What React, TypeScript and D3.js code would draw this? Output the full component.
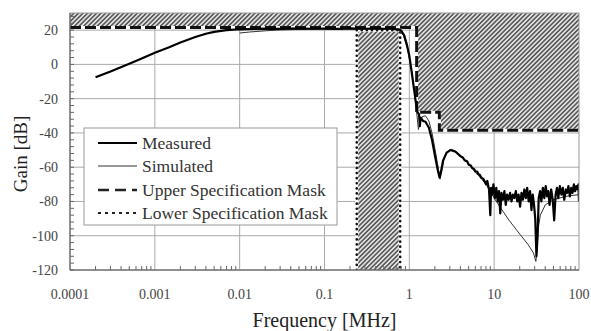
import React from "react";
import * as d3 from "d3";

const W = 591, H = 331;
const M = { left: 70, right: 579, top: 13, bottom: 270 };

const xTicks = [0.0001, 0.001, 0.01, 0.1, 1, 10, 100];
const xTickLabels = ["0.0001", "0.001", "0.01", "0.1", "1", "10", "100"];
const yTicks = [20, 0, -20, -40, -60, -80, -100, -120];

const measuredFreq = [
  0.0002, 0.0003, 0.0005, 0.0007, 0.001, 0.0015, 0.002, 0.003, 0.004, 0.005, 0.007, 0.01,
  0.015, 0.02, 0.03, 0.05, 0.07, 0.1, 0.15, 0.2, 0.3, 0.4, 0.5, 0.6, 0.7, 0.75, 0.8, 0.87,
  0.93, 1.0, 1.07, 1.14, 1.2, 1.25, 1.3, 1.33, 1.36, 1.45, 1.55, 1.7, 1.85, 2.0, 2.15, 2.27,
  2.35, 2.5, 2.75, 3.05, 3.5, 4.0, 4.3, 4.5, 4.8, 5.0, 5.3, 5.5, 5.8, 6.0, 6.3, 6.5, 6.8, 7.0,
  7.5, 8.0, 8.3, 8.7, 9.0, 9.2, 9.5, 9.8, 10.2, 10.6, 11.0, 11.4, 11.8, 12.2, 12.7, 13.2,
  13.7, 14.2, 14.8, 15.4, 16.0, 16.6, 17.3, 18.0, 18.7, 19.4, 20.2, 21.0, 21.8, 22.7, 23.6,
  24.5, 25.5, 26.5, 27.5, 28.5, 29.5, 30.5, 31.5, 32.5, 33.5, 34.8, 36.0, 37.5, 39.0, 40.5,
  42.0, 43.5, 45.0, 47.0, 49.0, 51.0, 53.0, 55.0, 57.0, 59.5, 62.0, 64.5, 67.0, 70.0, 72.5,
  75.0, 78.0, 81.0, 84.0, 87.0, 90.0, 93.0, 96.0, 98.5, 100.0,
];
const measuredGain = [
  -7.5, -4.2, 0.4, 3.5, 6.8, 10.2, 12.8, 16.0, 17.9, 19.0, 20.0, 20.5,
  20.7, 20.9, 20.7, 21.0, 20.8, 20.9, 20.7, 21.0, 20.8, 21.0, 20.8, 20.9, 20.6, 20.5, 19.8, 17.0,
  12.0, 5.0, -5.0, -15.0, -23.0, -28.0, -29.0, -36.0, -31.0, -33.0, -33.5, -37.0, -44.0, -53.0, -61.0, -66.0,
  -63.0, -56.0, -51.5, -50.0, -51.0, -53.5, -54.5, -56.0, -56.5, -58.5, -59.0, -60.5, -61.0, -62.5, -62.5, -64.0, -64.5, -66.0,
  -67.0, -70.0, -68.0, -73.0, -88.0, -72.0, -76.0, -70.0, -78.0, -72.0, -80.0, -74.0, -87.0, -75.0, -79.0, -74.0,
  -82.0, -76.0, -79.0, -75.0, -80.0, -76.0, -78.0, -74.0, -80.0, -76.0, -83.0, -75.0, -79.0, -73.0, -78.0,
  -72.0, -80.0, -74.0, -85.0, -76.0, -82.0, -90.0, -112.0, -100.0, -78.0, -74.0, -80.0, -72.0, -78.0, -71.0,
  -77.0, -74.0, -82.0, -73.0, -79.0, -91.0, -76.0, -72.0, -78.0, -71.0, -76.0, -72.0, -79.0, -73.0, -75.0,
  -71.0, -77.0, -72.0, -75.0, -70.0, -74.0, -71.0, -73.0, -70.0, -80.0,
];

const simulatedFreq = [
  0.01, 0.013, 0.02, 0.03, 0.05, 0.1, 0.3, 0.6, 0.75, 0.85, 0.95, 1.05, 1.15, 1.22, 1.28,
  1.33, 1.42, 1.55, 1.7, 1.85, 2.0, 2.15, 2.3, 2.4, 2.55, 2.8, 3.1, 3.5, 4.0, 5.0, 6.0, 7.0,
  8.0, 9.0, 10.0, 12.0, 15.0, 20.0, 25.0, 29.0, 31.0, 32.0, 33.0, 35.0, 40.0, 50.0, 70.0, 100.0,
];
const simulatedGain = [
  18.3, 18.9, 19.6, 20.1, 20.4, 20.6, 20.6, 20.5, 20.0, 17.0, 9.0, -2.0, -16.0, -28.0, -38.0,
  -34.0, -30.5, -30.0, -33.0, -40.0, -49.0, -58.0, -67.0, -63.0, -56.0, -51.0, -49.5, -50.5, -53.0, -58.0, -63.0, -66.5,
  -70.0, -74.0, -78.0, -84.0, -91.0, -99.0, -105.0, -110.0, -115.0, -108.0, -96.0, -88.0, -82.0, -79.0, -77.0, -76.0,
];

const upperMaskFreq = [0.0001, 1.22, 1.22, 2.26, 2.26, 100];
const upperMaskGain = [21.5, 21.5, -28, -28, -38.5, -38.5];
const lowerMaskFreq = [0.24, 0.24, 0.78, 0.78];
const lowerMaskGain = [-120, 20, 20, -120];

const legendLabels = ["Measured", "Simulated", "Upper Specification Mask", "Lower Specification Mask"];

const font = '"Liberation Serif", "DejaVu Serif", serif';

export default function App() {
  const x = d3.scaleLog().domain([0.0001, 100]).range([M.left, M.right]);
  const y = d3.scaleLinear().domain([-120, 30]).range([M.bottom, M.top]);

  const line = d3
    .line<[number, number]>()
    .x((d) => x(d[0]))
    .y((d) => y(d[1]));

  const meas = measuredFreq.map((f, i) => [f, measuredGain[i]] as [number, number]);
  const sim = simulatedFreq.map((f, i) => [f, simulatedGain[i]] as [number, number]);
  const upper = upperMaskFreq.map((f, i) => [f, upperMaskGain[i]] as [number, number]);
  const lower = lowerMaskFreq.map((f, i) => [f, lowerMaskGain[i]] as [number, number]);

  const upperHatch: [number, number][] = [[0.0001, 30], ...upper, [100, 30]];

  const minorX: number[] = [];
  for (let e = -4; e < 2; e++) {
    for (let k = 2; k <= 9; k++) minorX.push(k * Math.pow(10, e));
  }
  const minorY: number[] = [];
  for (let v = -120; v <= 30; v += 4) minorY.push(v);

  const legendY = [143, 166, 190, 213];
  const textStyle = { fontFamily: font };

  return (
    <svg width={W} height={H} style={{ position: "absolute", left: 0, top: 0, background: "#fff", fontFamily: font }}>
      <defs>
        <pattern id="hatch" patternUnits="userSpaceOnUse" width={3.2} height={3.2} patternTransform="rotate(45)">
          <rect width={3.2} height={3.2} fill="#e2e2e2" />
          <line x1={0.8} y1={0} x2={0.8} y2={3.2} stroke="#505050" strokeWidth={1.5} />
        </pattern>
        <clipPath id="plotclip">
          <rect x={M.left} y={M.top} width={M.right - M.left} height={M.bottom - M.top} />
        </clipPath>
      </defs>

      {/* grid */}
      {xTicks.slice(1, -1).map((t) => (
        <line key={"gx" + t} x1={x(t)} x2={x(t)} y1={M.top} y2={M.bottom} stroke="#aaa" strokeWidth={1} />
      ))}
      {yTicks.slice(0, -1).map((t) => (
        <line key={"gy" + t} x1={M.left} x2={M.right} y1={y(t)} y2={y(t)} stroke="#aaa" strokeWidth={1} />
      ))}

      <g clipPath="url(#plotclip)">
        {/* hatched forbidden regions */}
        <path d={line(upperHatch) + "Z"} fill="url(#hatch)" stroke="none" />
        <path d={line(lower) + "Z"} fill="url(#hatch)" stroke="none" />

        {/* mask lines */}
        <path d={line(upper) ?? ""} fill="none" stroke="#fff" strokeWidth={3} />
        <path d={line(upper) ?? ""} fill="none" stroke="#111" strokeWidth={3} strokeDasharray="11 4" />
        <path d={line(lower) ?? ""} fill="none" stroke="#fff" strokeWidth={3} />
        <path d={line(lower) ?? ""} fill="none" stroke="#111" strokeWidth={2.6} strokeDasharray="0.1 5" strokeLinecap="round" />

        {/* curves */}
        <path d={line(sim) ?? ""} fill="none" stroke="#333" strokeWidth={1} />
        <path d={line(meas) ?? ""} fill="none" stroke="#000" strokeWidth={2.2} strokeLinejoin="round" />
      </g>

      {/* frame */}
      <rect x={M.left} y={M.top} width={M.right - M.left} height={M.bottom - M.top} fill="none" stroke="#999" strokeWidth={1} />
      <line x1={M.left} x2={M.left} y1={M.top} y2={M.bottom} stroke="#555" strokeWidth={1} />
      <line x1={M.left} x2={M.right} y1={M.bottom} y2={M.bottom} stroke="#555" strokeWidth={1} />

      {/* minor ticks */}
      {minorX.map((t, i) => (
        <line key={"mx" + i} x1={x(t)} x2={x(t)} y1={M.bottom} y2={M.bottom - 4} stroke="#666" strokeWidth={1} />
      ))}
      {minorY.map((t, i) => (
        <line key={"my" + i} x1={M.left} x2={M.left + 4} y1={y(t)} y2={y(t)} stroke="#666" strokeWidth={1} />
      ))}

      {/* tick labels */}
      {xTicks.map((t, i) => (
        <text key={"lx" + t} x={x(t)} y={299} textAnchor="middle" style={textStyle} fontSize={14} fill="#444">
          {xTickLabels[i]}
        </text>
      ))}
      {yTicks.map((t) => (
        <text key={"ly" + t} x={58} y={y(t) + 5} textAnchor="end" style={textStyle} fontSize={14} fill="#444">
          {t}
        </text>
      ))}

      {/* axis titles */}
      <text x={(M.left + M.right) / 2} y={327} textAnchor="middle" style={textStyle} fontSize={20} fill="#222">
        Frequency [MHz]
      </text>
      <text transform={`translate(27,154) rotate(-90)`} textAnchor="middle" style={textStyle} fontSize={19} fill="#222">
        Gain [dB]
      </text>

      {/* legend */}
      <rect x={84} y={128} width={253} height={97} fill="#fff" stroke="#999" strokeWidth={1} />
      <line x1={98} x2={137} y1={legendY[0]} y2={legendY[0]} stroke="#000" strokeWidth={2.2} />
      <line x1={98} x2={137} y1={legendY[1]} y2={legendY[1]} stroke="#333" strokeWidth={1} />
      <line x1={98} x2={137} y1={legendY[2]} y2={legendY[2]} stroke="#222" strokeWidth={2.6} strokeDasharray="11 6" />
      <line x1={98} x2={137} y1={legendY[3]} y2={legendY[3]} stroke="#222" strokeWidth={2} strokeDasharray="3 4" />
      {legendLabels.map((l, i) => (
        <text key={l} x={142} y={legendY[i] + 5.5} style={textStyle} fontSize={17.5} fill="#333">
          {l}
        </text>
      ))}
    </svg>
  );
}
